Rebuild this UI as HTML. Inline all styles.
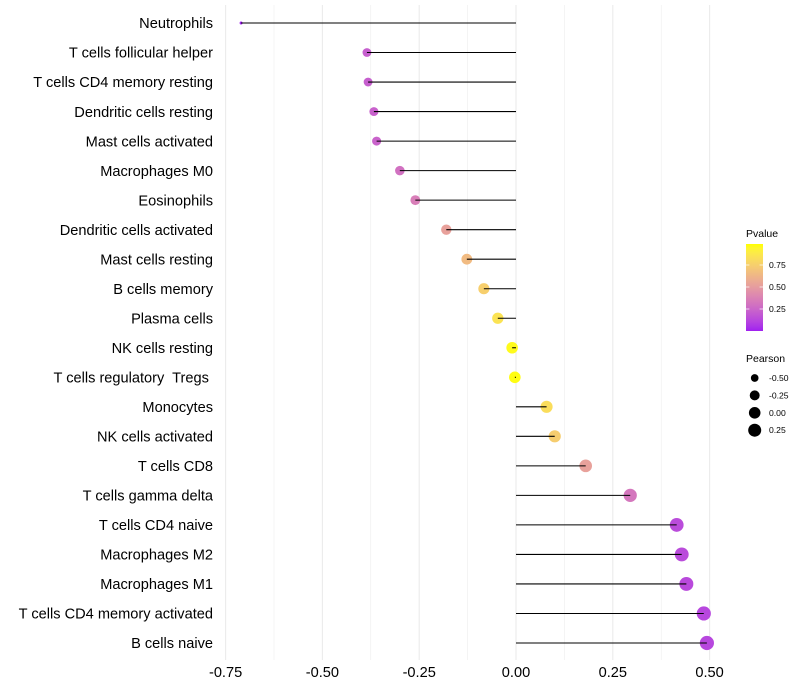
<!DOCTYPE html>
<html lang="en">
<head>
<meta charset="utf-8">
<title>Pearson lollipop chart</title>
<style>
html,body{margin:0;padding:0;background:#fff;}
svg{display:block;font-family:"Liberation Sans",sans-serif;}
</style>
</head>
<body>
<svg id="chart" xmlns="http://www.w3.org/2000/svg" width="800" height="700" viewBox="0 0 800 700">
  <defs>
    <linearGradient id="pvalue-gradient" x1="0" y1="1" x2="0" y2="0"></linearGradient>
  </defs>
  <rect x="0" y="0" width="800" height="700" fill="#ffffff"/>
  <g id="grid"></g>
  <g id="points"></g>
  <g id="stems"></g>
  <g id="ylabels"></g>
  <g id="xlabels"></g>
  <g id="color-legend">
    <text x="746" y="237" font-size="10.5" fill="#000">Pvalue</text>
    <rect id="colorbar" x="746" y="244" width="17" height="87" fill="url(#pvalue-gradient)"/>
  </g>
  <g id="size-legend">
    <text x="746" y="362" font-size="10.5" fill="#000">Pearson</text>
  </g>
</svg>
<script>
const categories = ["Neutrophils","T cells follicular helper","T cells CD4 memory resting","Dendritic cells resting","Mast cells activated","Macrophages M0","Eosinophils","Dendritic cells activated","Mast cells resting","B cells memory","Plasma cells","NK cells resting","T cells regulatory  Tregs ","Monocytes","NK cells activated","T cells CD8","T cells gamma delta","T cells CD4 naive","Macrophages M2","Macrophages M1","T cells CD4 memory activated","B cells naive"];
const pearsonValues = [-0.71,-0.385,-0.382,-0.367,-0.36,-0.30,-0.26,-0.18,-0.127,-0.083,-0.047,-0.01,-0.003,0.079,0.10,0.18,0.295,0.415,0.428,0.44,0.485,0.493];
const pValues = [0.0,0.22,0.22,0.23,0.24,0.30,0.36,0.53,0.66,0.76,0.86,0.98,0.99,0.83,0.75,0.53,0.33,0.14,0.14,0.13,0.12,0.12];
const xTickValues = [-0.75,-0.5,-0.25,0,0.25,0.5];
const xTickLabels = ["-0.75","-0.50","-0.25","0.00","0.25","0.50"];
const xMinorValues = [-0.625,-0.375,-0.125,0.125,0.375];
const colorTickValues = [0.25,0.5,0.75];
const colorTickLabels = ["0.25","0.50","0.75"];
const sizeLegendValues = [-0.5,-0.25,0,0.25];
const sizeLegendLabels = ["-0.50","-0.25","0.00","0.25"];

const NS = "http://www.w3.org/2000/svg";
const plotTop = 5, plotBottom = 660;
function xScale(v){ return 516 + v * 387.2; }
function yScale(i){ return 23 + i * (620 / (categories.length - 1)); }
function pScale(p){ return 331 - p * 88; }
const pearsonMin = Math.min(...pearsonValues), pearsonMax = Math.max(...pearsonValues);
function rScale(v){
  const t = Math.max(0, (v - pearsonMin) / (pearsonMax - pearsonMin));
  return 1.5 + 5.6 * Math.sqrt(t);
}
function srgbToLinear(c){ c/=255; return c<=0.04045 ? c/12.92 : Math.pow((c+0.055)/1.055,2.4); }
function linearToSrgb(c){ const v = c<=0.0031308 ? 12.92*c : 1.055*Math.pow(c,1/2.4)-0.055; return Math.round(255*Math.min(1,Math.max(0,v))); }
function f(t){ return t>0.008856 ? Math.cbrt(t) : 7.787*t+16/116; }
function fi(t){ return t>0.2069 ? t*t*t : (t-16/116)/7.787; }
function toLab(rgb){
  const r=srgbToLinear(rgb[0]),g=srgbToLinear(rgb[1]),b=srgbToLinear(rgb[2]);
  const X=(0.4124*r+0.3576*g+0.1805*b)/0.95047,Y=0.2126*r+0.7152*g+0.0722*b,Z=(0.0193*r+0.1192*g+0.9505*b)/1.08883;
  return [116*f(Y)-16,500*(f(X)-f(Y)),200*(f(Y)-f(Z))];
}
function fromLab(lab){
  const fy=(lab[0]+16)/116,fx=lab[1]/500+fy,fz=fy-lab[2]/200;
  const X=fi(fx)*0.95047,Y=fi(fy),Z=fi(fz)*1.08883;
  const r=3.2406*X-1.5372*Y-0.4986*Z,g=-0.9689*X+1.8758*Y+0.0415*Z,b=0.0557*X-0.2040*Y+1.0570*Z;
  return "rgb("+linearToSrgb(r)+","+linearToSrgb(g)+","+linearToSrgb(b)+")";
}
const labLow = toLab([160,32,240]), labHigh = toLab([255,255,0]);
function colorScale(p){
  return fromLab(labLow.map(function(a,i){ return a + (labHigh[i]-a)*p; }));
}
function make(parent, tag, attrs){
  const el = document.createElementNS(NS, tag);
  for (const k in attrs) el.setAttribute(k, attrs[k]);
  parent.appendChild(el);
  return el;
}

const grid = document.getElementById("grid");
xMinorValues.forEach(function(v){
  const el = make(grid, "line", {x1:xScale(v),x2:xScale(v),y1:plotTop,y2:plotBottom,stroke:"#ebebeb","stroke-width":0.55});
  
  
});
xTickValues.forEach(function(v){
  const el = make(grid, "line", {x1:xScale(v),x2:xScale(v),y1:plotTop,y2:plotBottom,stroke:"#ebebeb","stroke-width":1.05});
  
  
});

const pts = document.getElementById("points");
const stems = document.getElementById("stems");
const ylabels = document.getElementById("ylabels");
categories.forEach(function(name,i){
  const y = yScale(i), x = xScale(pearsonValues[i]);
  const c = make(pts, "circle", {cx:x,cy:y,r:rScale(pearsonValues[i]),fill:colorScale(pValues[i])});
  
  
  const s = make(stems, "line", {x1:xScale(0),x2:x,y1:y,y2:y,stroke:"#000000","stroke-width":1.05});
  
  
  const t = make(ylabels, "text", {x:213,y:y+5.2,"text-anchor":"end","font-size":14.6,fill:"#000"});
  t.setAttribute('xml:space', 'preserve');
  t.style.whiteSpace = "pre";
  t.textContent = name;
  
  
});

const xlabels = document.getElementById("xlabels");
xTickValues.forEach(function(v,i){
  const t = make(xlabels, "text", {x:xScale(v),y:677,"text-anchor":"middle","font-size":14.6,fill:"#000"});
  t.textContent = xTickLabels[i];
  
  
});

const grad = document.getElementById("pvalue-gradient");
for (let k = 0; k <= 20; k++){
  make(grad, "stop", {offset:(k*5)+"%","stop-color":colorScale(k/20)});
}
const colorLegend = document.getElementById("color-legend");
colorTickValues.forEach(function(p,i){
  const y = pScale(p);
  const a = make(colorLegend, "line", {x1:746,x2:749.4,y1:y,y2:y,stroke:"#ffffff","stroke-width":0.7});
  
  
  const b = make(colorLegend, "line", {x1:759.6,x2:763,y1:y,y2:y,stroke:"#ffffff","stroke-width":0.7});
  
  
  const t = make(colorLegend, "text", {x:769,y:y+3,"font-size":8.6,fill:"#000"});
  t.textContent = colorTickLabels[i];
  
  
});

const sizeLegend = document.getElementById("size-legend");
sizeLegendValues.forEach(function(v,i){
  const y = 378 + i * 17.4;
  const c = make(sizeLegend, "circle", {cx:754.7,cy:y,r:rScale(v),fill:"#000000"});
  
  
  const t = make(sizeLegend, "text", {x:769,y:y+3,"font-size":8.6,fill:"#000"});
  t.textContent = sizeLegendLabels[i];
  
  
});
</script>
</body>
</html>
